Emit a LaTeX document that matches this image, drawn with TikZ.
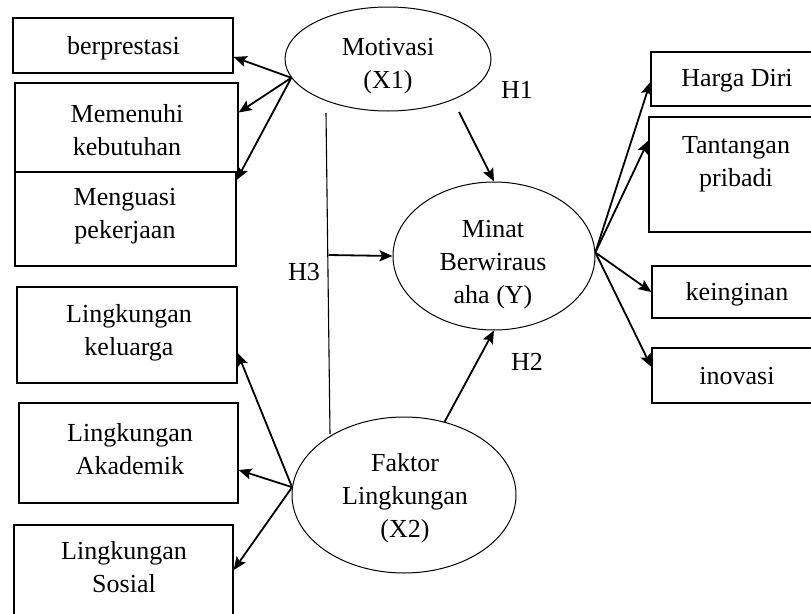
\documentclass[tikz,border=0pt]{standalone}
\usepackage{fontspec}
\setmainfont{Liberation Serif}
\usetikzlibrary{arrows.meta,shapes.geometric}
\begin{document}
\begin{tikzpicture}[x=1pt,y=-1pt,
  box/.style={draw, line width=1.3pt, rectangle, inner sep=0pt},
  lat/.style={draw, ellipse, line width=1pt, inner sep=0pt},
  txt/.style={align=center, inner sep=0pt, font=\fontsize{26}{33}\selectfont},
  arr/.style={line width=1.8pt, -{Stealth[length=13pt,width=11pt,inset=2.5pt]}},
  ln/.style={line width=1.1pt}]
\useasboundingbox (0,0) rectangle (811,613);
\clip (0,0) rectangle (811,613);
% left boxes
\node[box, minimum width=220pt, minimum height=55pt] (bp) at (123,45.5) {};
\node[box, minimum width=223pt, minimum height=89pt] (mem) at (126.5,127.5) {};
\node[box, minimum width=221pt, minimum height=94pt] (men) at (125.5,219) {};
\node[box, minimum width=220pt, minimum height=96pt] (kel) at (127,335) {};
\node[box, minimum width=219pt, minimum height=100pt] (aka) at (128.5,453) {};
\node[box, minimum width=219pt, minimum height=115pt] (sos) at (123.5,582.5) {};
% right boxes
\node[box, minimum width=172pt, minimum height=54pt] (hd) at (737,79) {};
\node[box, minimum width=174pt, minimum height=115pt] (tan) at (736,174.5) {};
\node[box, minimum width=171pt, minimum height=52pt] (kei) at (737.5,292) {};
\node[box, minimum width=171pt, minimum height=55pt] (ino) at (737.5,375.5) {};
% box texts
\node[txt] (bpT) at (123.5,48) {berprestasi};
\node[txt] (memT) at (127,130) {Memenuhi\\kebutuhan};
\node[txt] (menT) at (125,216) {Menguasi\\pekerjaan};
\node[txt] (kelT) at (129,333) {Lingkungan\\keluarga};
\node[txt] (akaT) at (130,449) {Lingkungan\\Akademik};
\node[txt] (sosT) at (124,567) {Lingkungan\\Sosial};
\node[txt] (hdT) at (737,81) {Harga Diri};
\node[txt] (tanT) at (736,164) {Tantangan\\pribadi};
\node[txt] (keiT) at (737,294) {keinginan};
\node[txt] (inoT) at (737,376) {inovasi};
% latent ellipses
\node[lat, minimum width=206pt, minimum height=104pt] (mot) at (388,59) {};
\node[lat, minimum width=202pt, minimum height=148pt] (min) at (494,256) {};
\node[lat, minimum width=224pt, minimum height=156pt] (fak) at (404,495) {};
\node[txt] (motT) at (388,66) {Motivasi\\(X1)};
\node[txt] (minT) at (493,265) {Minat\\Berwiraus\\aha (Y)};
\node[txt] (fakT) at (405,498) {Faktor\\Lingkungan\\(X2)};
% hypothesis labels
\node[txt] (h1) at (517,90) {H1};
\node[txt] (h2) at (527,362) {H2};
\node[txt] (h3) at (304,272) {H3};
% free coordinates
\coordinate (h1s) at (459,112);
\coordinate (h3a) at (326,113);
\coordinate (h3b) at (330,434);
\coordinate (h3m) at (328.5,255);
% Motivasi indicators
\draw[arr] (mot.191) -- ([yshift=-11.5pt]bp.east);
\draw[arr] (mot.191) -- ([yshift=15pt]mem.east);
\draw[arr] (mot.191) -- ([yshift=39pt]men.east);
% Faktor indicators
\draw[arr] (fak.176) -- ([yshift=-18pt]kel.east);
\draw[arr] (fak.176) -- ([yshift=-17pt]aka.east);
\draw[arr] (fak.176) -- ([yshift=12.5pt]sos.east);
% Minat indicators
\draw[arr] (min.2) -- ([yshift=-3pt]hd.west);
\draw[arr] (min.2) -- ([yshift=34pt]tan.west);
\draw[arr] (min.2) -- (kei.west);
\draw[arr] (min.2) -- ([yshift=8.5pt]ino.west);
% hypotheses
\draw[arr] (h1s) -- (min.north);
\draw[arr] (fak.61) -- (min.south);
\draw[ln] (h3a) -- (h3b);
\draw[arr] (h3m) -- (min.west);
\end{tikzpicture}
\end{document}
